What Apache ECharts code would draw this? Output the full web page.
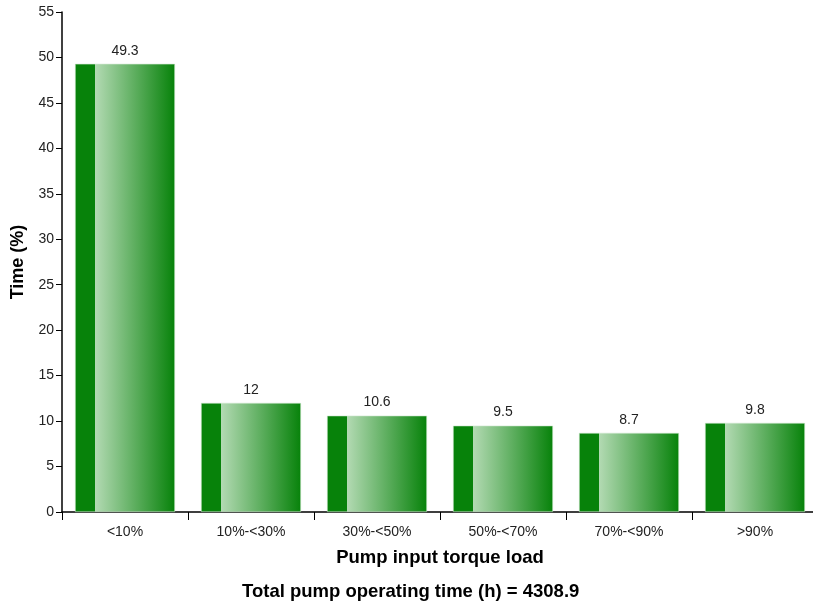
<!DOCTYPE html>
<html>
<head>
<meta charset="utf-8">
<script src="https://cdn.jsdelivr.net/npm/echarts@6/dist/echarts.min.js"></script>
<style>
  html, body { margin: 0; padding: 0; background: #fff; }
  #chart { width: 813px; height: 608px; }
</style>
</head>
<body>
<div id="chart"></div>
<script>
const categories = ['<10%', '10%-<30%', '30%-<50%', '50%-<70%', '70%-<90%', '>90%'];
const timeShare = [49.3, 12, 10.6, 9.5, 8.7, 9.8];
const totalHours = 4308.9;

const font = '"Liberation Sans", Arial, sans-serif';
const chart = echarts.init(document.getElementById('chart'));

const barFill = new echarts.graphic.LinearGradient(0, 0, 1, 0, [
  { offset: 0, color: '#07820a' },
  { offset: 0.2, color: '#07820a' },
  { offset: 0.2, color: '#b3dab3' },
  { offset: 1, color: '#07820a' }
]);

chart.setOption({
  animation: false,
  textStyle: { fontFamily: font },
  title: {
    text: 'Total pump operating time (h) = ' + totalHours,
    left: 237,
    top: 577,
    textStyle: { fontFamily: font, fontSize: 18.5, fontWeight: 'bold', color: '#000' }
  },
  // the last category runs past the right edge of the canvas, as in the original
  grid: { left: 62, width: 756, top: 12, bottom: 96, outerBoundsMode: 'none' },
  xAxis: {
    type: 'category',
    data: categories,
    name: 'Pump input torque load',
    nameLocation: 'middle',
    nameGap: 36,
    nameTextStyle: { fontFamily: font, fontSize: 18.5, fontWeight: 'bold', color: '#000' },
    axisLine: { lineStyle: { color: '#000', width: 1.5 } },
    axisTick: { show: true, length: 8, lineStyle: { color: '#000' } },
    axisLabel: { fontFamily: font, fontSize: 14, color: '#222', margin: 13 }
  },
  yAxis: {
    type: 'value',
    min: 0,
    max: 55,
    interval: 5,
    name: 'Time (%)',
    nameLocation: 'middle',
    nameGap: 35,
    nameTextStyle: { fontFamily: font, fontSize: 18, fontWeight: 'bold', color: '#000' },
    axisLine: { show: true, lineStyle: { color: '#000', width: 1.5 } },
    axisTick: { show: true, length: 6, lineStyle: { color: '#000' } },
    axisLabel: { fontFamily: font, fontSize: 14, color: '#222', margin: 8 },
    splitLine: { show: false }
  },
  series: [{
    type: 'bar',
    data: timeShare,
    barWidth: 100,
    itemStyle: { color: barFill, borderColor: '#cfe8cf', borderWidth: 0.6 },
    label: {
      show: true,
      position: 'top',
      distance: 6,
      fontFamily: font,
      fontSize: 14,
      color: '#222'
    }
  }]
});
</script>
</body>
</html>
